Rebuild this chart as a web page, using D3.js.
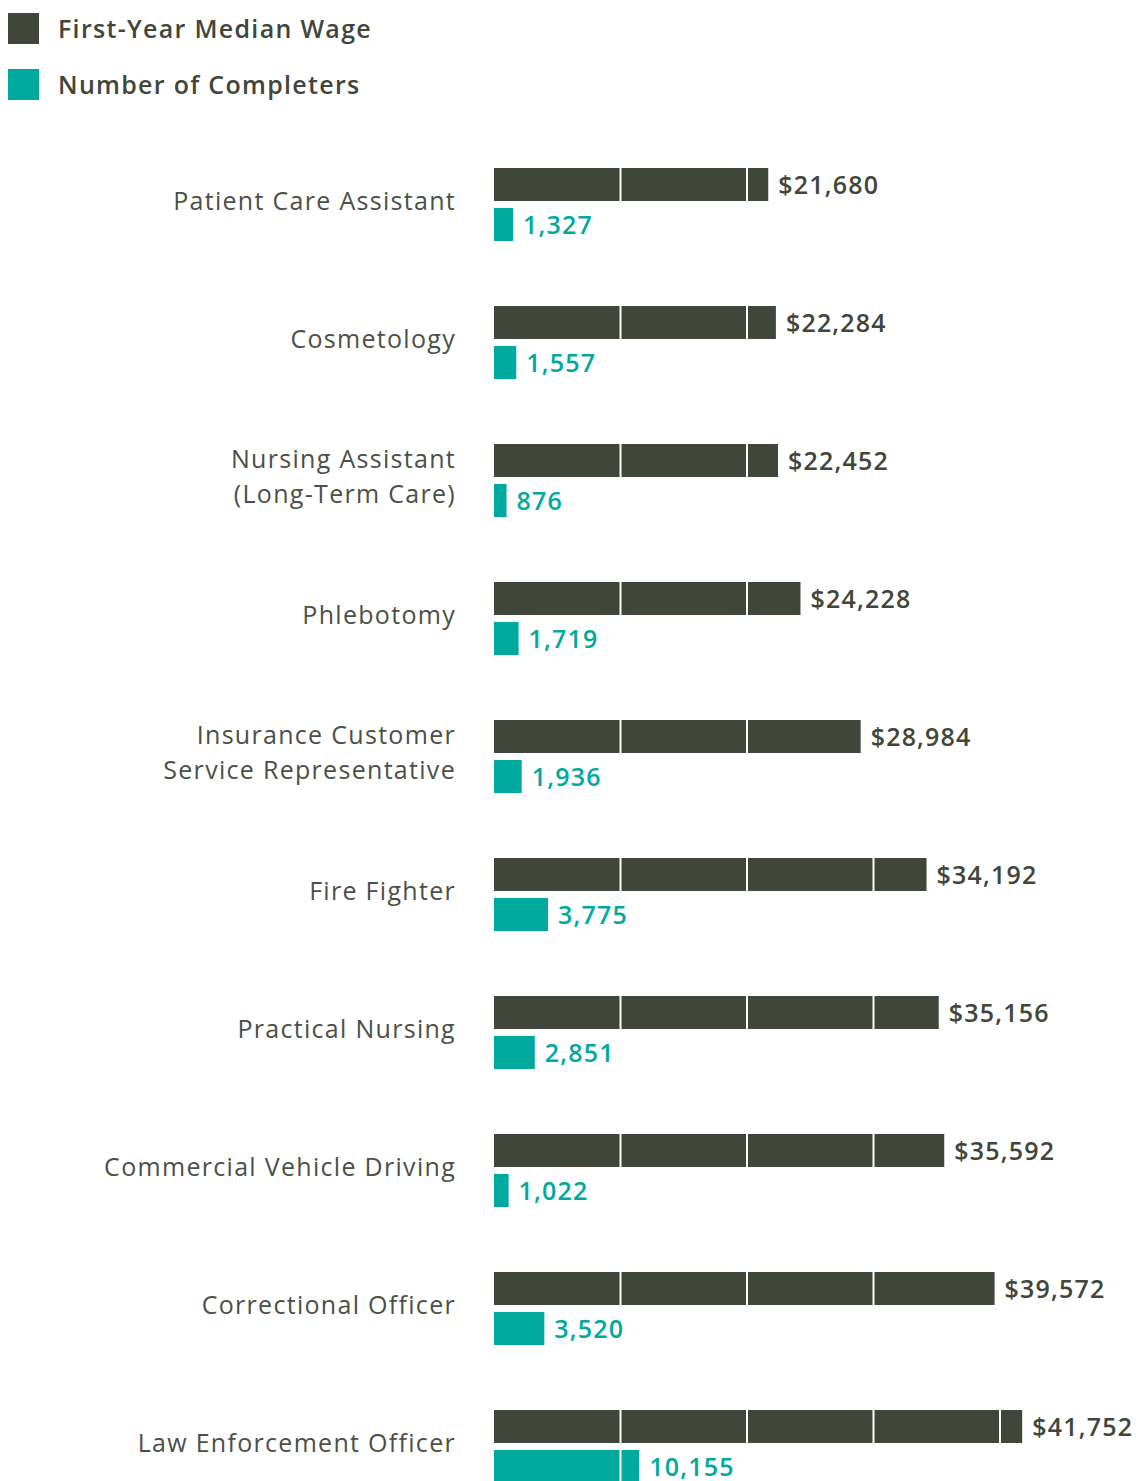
<!DOCTYPE html>
<html>
<head>
<meta charset="utf-8">
<script src="https://cdn.jsdelivr.net/npm/d3@7"></script>
<style>
  body { margin: 0; background: #fff; }
  svg text { font-family: "Open Sans", "Noto Sans", sans-serif; }
</style>
</head>
<body>
<svg id="chart" width="1136" height="1481"></svg>
<script>
const programs = [
  ["Patient Care Assistant"],
  ["Cosmetology"],
  ["Nursing Assistant", "(Long-Term Care)"],
  ["Phlebotomy"],
  ["Insurance Customer", "Service Representative"],
  ["Fire Fighter"],
  ["Practical Nursing"],
  ["Commercial Vehicle Driving"],
  ["Correctional Officer"],
  ["Law Enforcement Officer"],
];
const wages = [21680, 22284, 22452, 24228, 28984, 34192, 35156, 35592, 39572, 41752];
const completers = [1327, 1557, 876, 1719, 1936, 3775, 2851, 1022, 3520, 10155];
const gridTicks = [10000, 20000, 30000, 40000];
const legendItems = ["First-Year Median Wage", "Number of Completers"];

const DARK = "#41463b";
const TEAL = "#00a99d";
const TEXT = "#4b5046";

const svg = d3.select("#chart");

const x0 = 494;
const xWage = d3.scaleLinear().domain([0, 40000]).range([x0, x0 + 506]);
const xComp = d3.scaleLinear().domain([0, 10000]).range([x0, x0 + 143]);

const keys = programs.map((p, i) => i);
const y = d3.scaleBand().domain(keys).range([168, 1548]).paddingInner(0);
const barH = 33;
const gap = 7;

// Legend
const legend = svg.selectAll("g.legend")
  .data(legendItems)
  .join("g")
  .attr("class", "legend")
  .attr("transform", (d, i) => `translate(8, ${13 + i * 56})`);
legend.append("rect")
  .attr("width", 31).attr("height", 31)
  .attr("fill", (d, i) => (i === 0 ? DARK : TEAL));
legend.append("text")
  .attr("x", 50).attr("y", 16)
  .attr("dy", "0.35em")
  .attr("font-size", 25)
  .attr("font-weight", 600)
  .attr("letter-spacing", 1.3)
  .attr("fill", DARK)
  .text(d => d);

const rows = svg.selectAll("g.row")
  .data(keys)
  .join("g")
  .attr("class", "row")
  .attr("transform", i => `translate(0, ${y(i)})`);

// Category labels
rows.append("text")
  .attr("text-anchor", "end")
  .attr("x", 456)
  .attr("font-size", 25)
  .attr("fill", TEXT)
  .attr("letter-spacing", 1.3)
  .each(function (i) {
    const lines = programs[i];
    const t = d3.select(this);
    const c = 33 - (lines.length - 1) * 17.5;
    lines.forEach((l, k) => {
      t.append("tspan")
        .attr("x", 456)
        .attr("y", c + k * 35)
        .attr("dy", "0.35em")
        .text(l);
    });
  });

// Wage bars
rows.append("rect")
  .attr("x", x0)
  .attr("y", 0)
  .attr("height", barH)
  .attr("width", i => xWage(wages[i]) - x0)
  .attr("fill", DARK);

// Completer bars
rows.append("rect")
  .attr("x", x0)
  .attr("y", barH + gap)
  .attr("height", barH)
  .attr("width", i => xComp(completers[i]) - x0)
  .attr("fill", TEAL);

// White grid separators over bars
rows.each(function (i) {
  const g = d3.select(this);
  gridTicks.forEach(t => {
    const gx = xWage(t);
    if (gx < xWage(wages[i]) - 1) {
      g.append("line")
        .attr("x1", gx).attr("x2", gx)
        .attr("y1", 0).attr("y2", barH)
        .attr("stroke", "#fff").attr("stroke-width", 2);
    }
    if (gx < xComp(completers[i]) - 1) {
      g.append("line")
        .attr("x1", gx).attr("x2", gx)
        .attr("y1", barH + gap).attr("y2", barH * 2 + gap)
        .attr("stroke", "#fff").attr("stroke-width", 2);
    }
  });
});

// Value labels
rows.append("text")
  .attr("x", i => xWage(wages[i]) + 10)
  .attr("y", barH / 2 + 1)
  .attr("dy", "0.35em")
  .attr("font-size", 25)
  .attr("font-weight", 600)
  .attr("letter-spacing", 1.2)
  .attr("fill", DARK)
  .text(i => "$" + d3.format(",")(wages[i]));

rows.append("text")
  .attr("x", i => xComp(completers[i]) + 10)
  .attr("y", barH + gap + barH / 2 + 1)
  .attr("dy", "0.35em")
  .attr("font-size", 25)
  .attr("font-weight", 600)
  .attr("letter-spacing", 1.2)
  .attr("fill", TEAL)
  .text(i => d3.format(",")(completers[i]));
</script>
</body>
</html>
